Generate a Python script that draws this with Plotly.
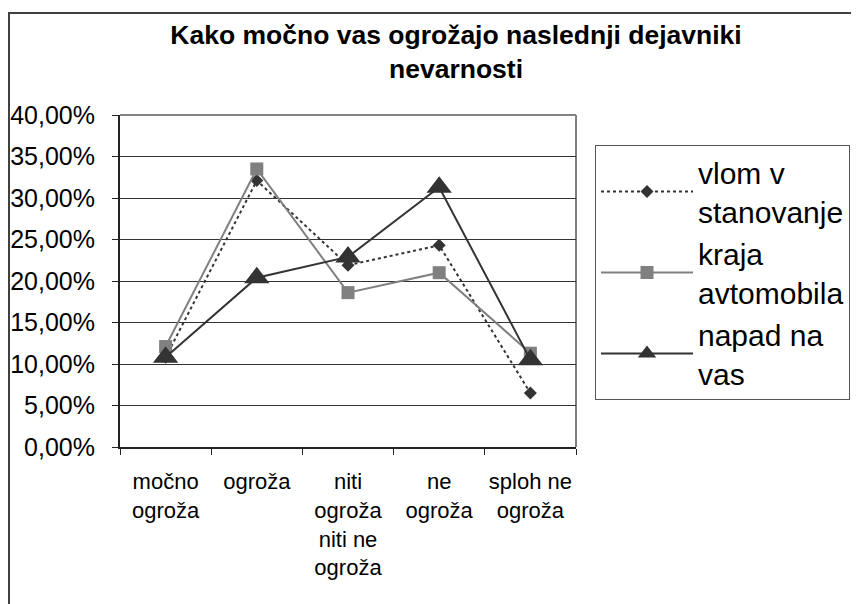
import plotly.graph_objects as go

categories = ["močno<br>ogroža", "ogroža", "niti<br>ogroža<br>niti ne<br>ogroža", "ne<br>ogroža", "sploh ne<br>ogroža"]
vlom = [0.108, 0.321, 0.219, 0.243, 0.065]
kraja = [0.121, 0.335, 0.186, 0.210, 0.113]
napad = [0.108, 0.204, 0.229, 0.313, 0.105]
y_ticks = [0, 0.05, 0.10, 0.15, 0.20, 0.25, 0.30, 0.35, 0.40]

FONT = "Liberation Sans, Arial, sans-serif"
OFF = 8  # page offset of the figure (body margin)

fig = go.Figure()
fig.add_trace(go.Scatter(
    x=categories, y=vlom, name="vlom v<br>stanovanje", mode="lines+markers",
    line=dict(color="#333333", width=2, dash="dot"),
    marker=dict(symbol="diamond", size=10, color="#333333")))
fig.add_trace(go.Scatter(
    x=categories, y=kraja, name="kraja<br>avtomobila", mode="lines+markers",
    line=dict(color="#808080", width=2),
    marker=dict(symbol="square", size=13, color="#808080")))
fig.add_trace(go.Scatter(
    x=categories, y=napad, name="napad na<br>vas", mode="lines+markers",
    line=dict(color="#333333", width=2),
    marker=dict(symbol="triangle-up", size=22, color="#333333")))

W, H = 859, 604
L, R, T, B = 120 - OFF, 576 - OFF, 115 - OFF, 447 - OFF
pw, ph = R - L, B - T

fig.update_layout(
    width=W, height=H,
    margin=dict(l=L, r=W - R, t=T, b=H - B, autoexpand=False),
    paper_bgcolor="white", plot_bgcolor="white",
    separators=", ",
    font=dict(family=FONT, color="black"),
    title=dict(
        text="<b>Kako močno vas ogrožajo naslednji dejavniki<br>nevarnosti</b>",
        x=(456 - OFF) / W, xanchor="center", y=1 - 36 / H, yanchor="top",
        font=dict(size=26.5, family=FONT, color="black")),
    showlegend=True,
    legend=dict(
        x=(595 - OFF - L) / pw, xanchor="left", y=(B - (145 - OFF)) / ph, yanchor="top",
        bordercolor="#555555", borderwidth=1, bgcolor="white",
        font=dict(size=30, family=FONT, color="black"),
        itemwidth=92, tracegroupgap=4),
    shapes=[
        dict(type="line", xref="paper", yref="paper", x0=0, x1=1, y0=1, y1=1,
             line=dict(color="#808080", width=2), layer="above"),
        dict(type="line", xref="paper", yref="paper", x0=1, x1=1, y0=0, y1=1,
             line=dict(color="#808080", width=2), layer="below"),
        dict(type="rect", xref="paper", yref="paper",
             x0=(1 - L) / pw, x1=(W + 20 - L) / pw,
             y0=(B - (H + 20)) / ph, y1=(B - (13 - OFF)) / ph,
             line=dict(color="#404040", width=2), layer="below"),
    ],
)
fig.update_xaxes(
    type="category", range=[-0.5, len(categories) - 0.5],
    showgrid=False, showline=True, linecolor="#222222", linewidth=2,
    ticks="outside", tickson="boundaries", ticklen=6, tickcolor="#222222",
    ticklabelstandoff=14, automargin=False,
    tickfont=dict(size=22, family=FONT, color="black"), tickangle=0)
fig.update_yaxes(
    range=[0, 0.4], tickvals=y_ticks, tickformat=".2%",
    showgrid=True, gridcolor="#333333", gridwidth=1,
    showline=True, linecolor="#222222", linewidth=2,
    ticks="outside", ticklen=6, tickcolor="#222222", ticklabelstandoff=12,
    automargin=False,
    tickfont=dict(size=25, family=FONT, color="black"), zeroline=False)

fig.write_html("out.html")
